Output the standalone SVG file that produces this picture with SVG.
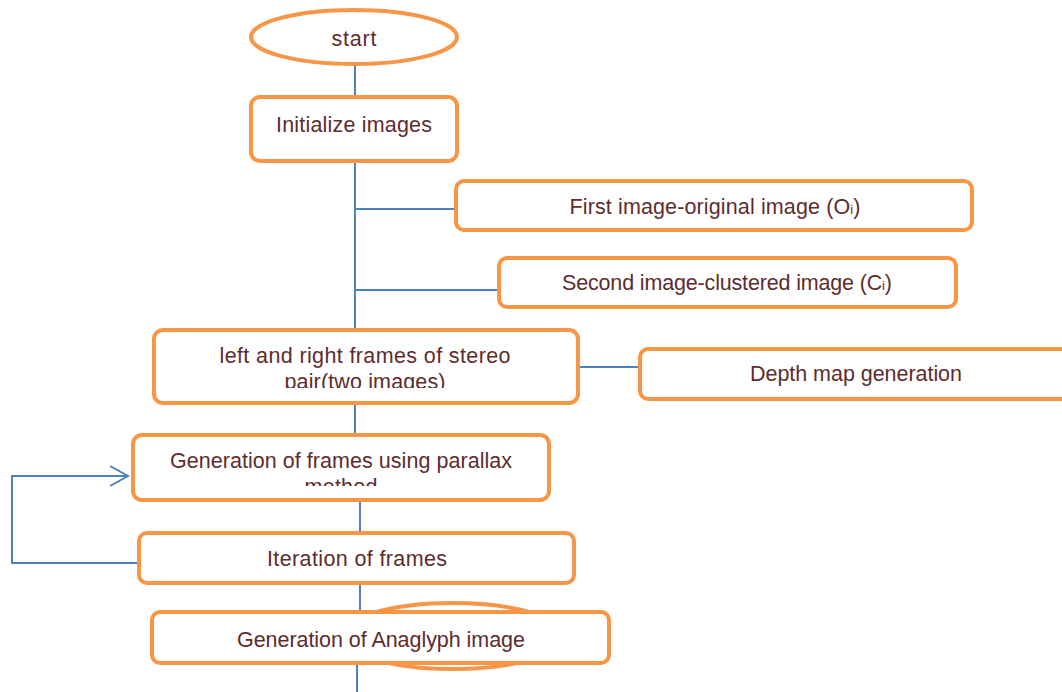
<svg xmlns="http://www.w3.org/2000/svg" width="1062" height="692" viewBox="0 0 1062 692">
  <style>
    .box { fill: #ffffff; stroke: #F79646; stroke-width: 4; }
    .ring { fill: none; stroke: #F79646; stroke-width: 4; }
    .wire { fill: none; stroke: #4F81BD; stroke-width: 2; }
    .lbl { font-family: "Liberation Sans", Arial, sans-serif; font-size: 21.5px; fill: #5e2d2d; text-anchor: middle; }
    .sub { font-size: 13px; }
  </style>
  <defs>
    <marker id="chevron" markerUnits="userSpaceOnUse" markerWidth="24" markerHeight="24" refX="20" refY="11" orient="auto">
      <path d="M2,1 L20,11 L2,21" fill="none" stroke="#4F81BD" stroke-width="2"/>
    </marker>
    <clipPath id="clip-stereo"><rect x="155" y="332" width="421" height="56"/></clipPath>
    <clipPath id="clip-parallax"><rect x="135" y="437" width="412" height="49"/></clipPath>
  </defs>

  <!-- connectors -->
  <g id="connectors">
    <line class="wire" x1="355" y1="64" x2="355" y2="97"/>
    <line class="wire" x1="355" y1="161" x2="355" y2="330"/>
    <line class="wire" x1="355" y1="209" x2="456" y2="209"/>
    <line class="wire" x1="355" y1="290" x2="499" y2="290"/>
    <line class="wire" x1="578" y1="367" x2="640" y2="367"/>
    <line class="wire" x1="355" y1="403" x2="355" y2="435"/>
    <line class="wire" x1="360" y1="500" x2="360" y2="533"/>
    <line class="wire" x1="360" y1="583" x2="360" y2="612"/>
    <line class="wire" x1="357" y1="663" x2="357" y2="692"/>
    <path class="wire" d="M139,563 H12 V476 H128" marker-end="url(#chevron)"/>
  </g>

  <g id="start">
    <ellipse class="ring" cx="354" cy="37" rx="103" ry="27" style="fill:#fff"/>
    <text class="lbl" x="354" y="46" textLength="45">start</text>
  </g>

  <g id="init">
    <rect class="box" x="251" y="97" width="206" height="64" rx="9"/>
    <text class="lbl" x="354" y="132" textLength="156">Initialize images</text>
  </g>

  <g id="first-image">
    <rect class="box" x="456" y="181" width="516" height="49" rx="8"/>
    <text class="lbl" x="715" y="214" textLength="291">First image-original image (O<tspan class="sub">i</tspan>)</text>
  </g>

  <g id="second-image">
    <rect class="box" x="499" y="258" width="457" height="49" rx="8"/>
    <text class="lbl" x="727" y="290" textLength="330">Second image-clustered image (C<tspan class="sub">i</tspan>)</text>
  </g>

  <g id="stereo-pair">
    <rect class="box" x="154" y="330" width="424" height="73" rx="9"/>
    <g clip-path="url(#clip-stereo)">
      <text class="lbl" x="365" y="363" textLength="291">left and right frames of stereo</text>
      <text class="lbl" x="365" y="389" textLength="161">pair(two images)</text>
    </g>
  </g>

  <g id="depth-map">
    <rect class="box" x="640" y="349" width="440" height="50" rx="8"/>
    <text class="lbl" x="856" y="381" textLength="212">Depth map generation</text>
  </g>

  <g id="parallax">
    <rect class="box" x="133" y="435" width="416" height="65" rx="9"/>
    <g clip-path="url(#clip-parallax)">
      <text class="lbl" x="341" y="468" textLength="342">Generation of frames using parallax</text>
      <text class="lbl" x="341" y="494" textLength="73">method</text>
    </g>
  </g>

  <g id="iteration">
    <rect class="box" x="139" y="533" width="435" height="50" rx="8"/>
    <text class="lbl" x="357" y="566" textLength="180">Iteration of frames</text>
  </g>

  <g id="anaglyph">
    <ellipse class="ring" cx="453" cy="636" rx="112" ry="33"/>
    <rect class="box" x="152" y="612" width="457" height="51" rx="8"/>
    <text class="lbl" x="381" y="647" textLength="288">Generation of Anaglyph image</text>
  </g>
</svg>
